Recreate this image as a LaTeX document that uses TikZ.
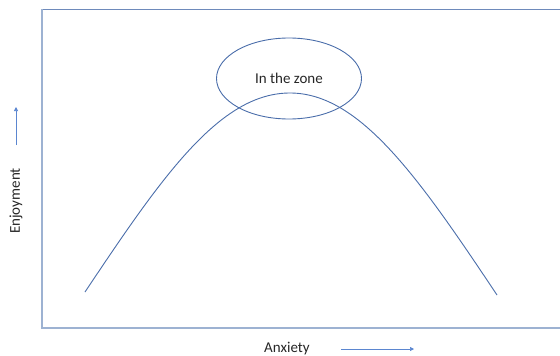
\documentclass[tikz,border=0pt]{standalone}
\usepackage{fontspec}
\setmainfont{Carlito}
\usetikzlibrary{arrows.meta,shapes.geometric}
\definecolor{curveblue}{HTML}{4A6DAA}
\definecolor{axisblue}{HTML}{9DB2D2}
\definecolor{arrowblue}{HTML}{5B86D0}
\definecolor{textgray}{HTML}{262626}
\tikzset{
  curveline/.style={draw=curveblue, line width=0.9pt},
  axisline/.style={draw=axisblue, line width=2pt},
  frameline/.style={draw=curveblue!80, line width=0.9pt},
  dirarrow/.style={draw=arrowblue, line width=0.7pt, -{Triangle[length=4pt,width=4pt]}},
  lab/.style={font=\fontsize{15}{18}\selectfont, text=textgray, inner sep=0pt}
}
\begin{document}
\begin{tikzpicture}[x=1pt,y=-1pt]
\useasboundingbox (0,0) rectangle (560,356);
% frame
\draw[frameline] (41.5,9.5) -- (560,9.5);
\coordinate (origin) at (41.5,327.5);
\coordinate (ytop) at (41.5,9);
\coordinate (xend) at (560,327.5);
\draw[axisline] (ytop) -- (origin) -- (xend);
% curve
\coordinate (cstart) at (85,292);
\coordinate (cpeak) at (290,93);
\coordinate (cend) at (497,295);
\draw[curveline] (cstart) .. controls (162.7,175.5) and (220,93) .. (cpeak)
  .. controls (360,93) and (419.3,178.5) .. (cend);
% ellipse
\node[draw=curveblue, line width=0.9pt, shape=ellipse, minimum width=145pt, minimum height=81pt, inner sep=0pt] (zone) at (289,78.5) {};
\node[lab] (zonetext) at (289,78.5) {In the zone};
% labels
\node[lab, rotate=90] (ylab) at (16,201) {Enjoyment};
\node[lab] (xlab) at (287,349) {Anxiety};
\coordinate (ya0) at (16,145);
\coordinate (ya1) at (16,107);
\draw[dirarrow] (ya0) -- (ya1);
\coordinate (xa0) at (341,349);
\coordinate (xa1) at (414,349);
\draw[dirarrow] (xa0) -- (xa1);
\end{tikzpicture}
\end{document}
